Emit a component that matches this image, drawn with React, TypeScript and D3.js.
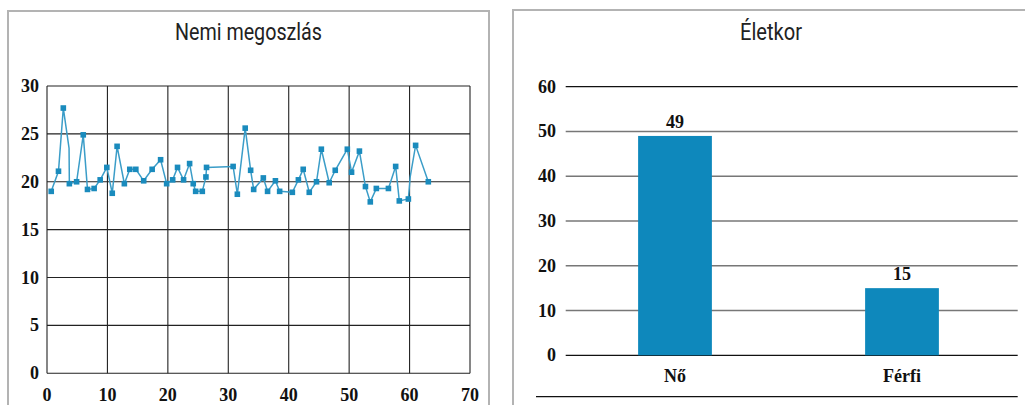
import React from 'react';
import * as d3 from 'd3';

// left chart: scatter line, x = sample index-ish, y = value
const sampleX = [0.7, 1.9, 2.7, 3.65, 3.7, 4.9, 6.0, 6.7, 7.8, 8.8, 9.9, 10.8, 11.6, 12.8, 13.7, 14.7, 16.0, 17.4, 18.8, 19.8, 20.8, 21.6, 22.6, 23.6, 24.2, 24.6, 25.7, 26.3, 26.4, 30.8, 31.5, 32.8, 33.7, 34.2, 35.8, 36.5, 37.8, 38.5, 40.6, 41.6, 42.4, 43.4, 44.6, 45.4, 46.7, 47.7, 49.7, 50.4, 51.7, 52.7, 53.5, 54.5, 56.5, 57.7, 58.3, 59.8, 60.1, 61.0, 63.1];
const sampleY = [19.0, 21.1, 27.7, 23.5, 19.8, 20.0, 24.9, 19.2, 19.3, 20.2, 21.5, 18.8, 23.7, 19.8, 21.3, 21.3, 20.1, 21.3, 22.3, 19.8, 20.2, 21.5, 20.2, 21.9, 19.8, 19.0, 19.0, 20.5, 21.5, 21.6, 18.7, 25.6, 21.2, 19.2, 20.4, 19.0, 20.1, 19.0, 18.9, 20.2, 21.3, 18.9, 20.0, 23.4, 19.9, 21.2, 23.4, 21.0, 23.2, 19.5, 17.9, 19.3, 19.3, 21.6, 18.0, 18.2, 20.5, 23.8, 20.0];
// points where the line bends without a marker
const unmarked = [3, 56];
const leftXTicks = [0, 10, 20, 30, 40, 50, 60, 70];
const leftYTicks = [0, 5, 10, 15, 20, 25, 30];

// right chart: bars
const categories = ['Nő', 'Férfi'];
const counts = [49, 15];
const rightYTicks = [0, 10, 20, 30, 40, 50, 60];

const serif = "'Liberation Serif', 'DejaVu Serif', serif";
const narrow = "'Roboto', 'Open Sans', sans-serif";

function LeftChart() {
  const x = d3.scaleLinear().domain([0, 70]).range([47, 470]);
  const y = d3.scaleLinear().domain([0, 30]).range([373.3, 86]);
  const pts = sampleX.map((v, i) => [v, sampleY[i]] as [number, number]);
  const line = d3.line<[number, number]>().x(d => x(d[0])).y(d => y(d[1]));
  return (
    <g>
      <rect x={8} y={11} width={481} height={420} fill="none" stroke="#b3b3b3" strokeWidth={2} />
      <text x={248.5} y={40} textAnchor="middle" fontFamily={narrow} fontSize={23} fill="#222"
        textLength={147} lengthAdjust="spacingAndGlyphs">Nemi megoszlás</text>
      {leftYTicks.map(t => (
        <g key={'y' + t}>
          <line x1={47} x2={470} y1={y(t)} y2={y(t)} stroke="#222" strokeWidth={1.1} />
          <text x={39} y={y(t) + 6} textAnchor="end" fontFamily={serif} fontWeight="bold" fontSize={18} fill="#111">{t}</text>
        </g>
      ))}
      {leftXTicks.map(t => (
        <g key={'x' + t}>
          <line x1={x(t)} x2={x(t)} y1={86} y2={373.3} stroke="#222" strokeWidth={1.1} />
          <text x={x(t)} y={401} textAnchor="middle" fontFamily={serif} fontWeight="bold" fontSize={18} fill="#111">{t}</text>
        </g>
      ))}
      <path d={line(pts) || ''} fill="none" stroke="#3b9dc8" strokeWidth={1.5} />
      {pts.map((p, i) => unmarked.includes(i) ? null : (
        <rect key={i} x={x(p[0]) - 2.8} y={y(p[1]) - 2.8} width={5.6} height={5.6} fill="#1a8bbd" />
      ))}
    </g>
  );
}

function RightChart() {
  const x = d3.scaleBand<string>().domain(categories).range([561.5, 1015.5]);
  const y = d3.scaleLinear().domain([0, 60]).range([355.3, 86.7]);
  const bw = x.bandwidth() * 0.325;
  return (
    <g>
      <rect x={513} y={10} width={520} height={420} fill="none" stroke="#b3b3b3" strokeWidth={2} />
      <text x={771} y={40} textAnchor="middle" fontFamily={narrow} fontSize={23} fill="#222"
        textLength={62} lengthAdjust="spacingAndGlyphs">Életkor</text>
      {rightYTicks.map(t => (
        <g key={t}>
          <line x1={565.7} x2={1017.7} y1={y(t)} y2={y(t)}
            stroke={t === 0 || t === 60 ? '#111' : '#777'} strokeWidth={t === 0 || t === 60 ? 1.2 : 1.6} />
          <text x={556} y={y(t) + 6} textAnchor="end" fontFamily={serif} fontWeight="bold" fontSize={18} fill="#111">{t}</text>
        </g>
      ))}
      {categories.map((c, i) => {
        const cx = (x(c) || 0) + x.bandwidth() / 2;
        return (
          <g key={c}>
            <rect x={cx - bw / 2} y={y(counts[i])} width={bw} height={y(0) - y(counts[i])} fill="#0e88bc" />
            <text x={cx} y={y(counts[i]) - 8} textAnchor="middle" fontFamily={serif} fontWeight="bold" fontSize={18} fill="#111">{counts[i]}</text>
            <text x={cx} y={382} textAnchor="middle" fontFamily={serif} fontWeight="bold" fontSize={18} fill="#111">{c}</text>
          </g>
        );
      })}
      <line x1={536} x2={1017.7} y1={396.7} y2={396.7} stroke="#111" strokeWidth={1.2} />
    </g>
  );
}

export default function App() {
  return (
    <svg width={1025} height={405} style={{ position: 'absolute', left: 0, top: 0, background: '#fff' }}>
      <LeftChart />
      <RightChart />
    </svg>
  );
}
